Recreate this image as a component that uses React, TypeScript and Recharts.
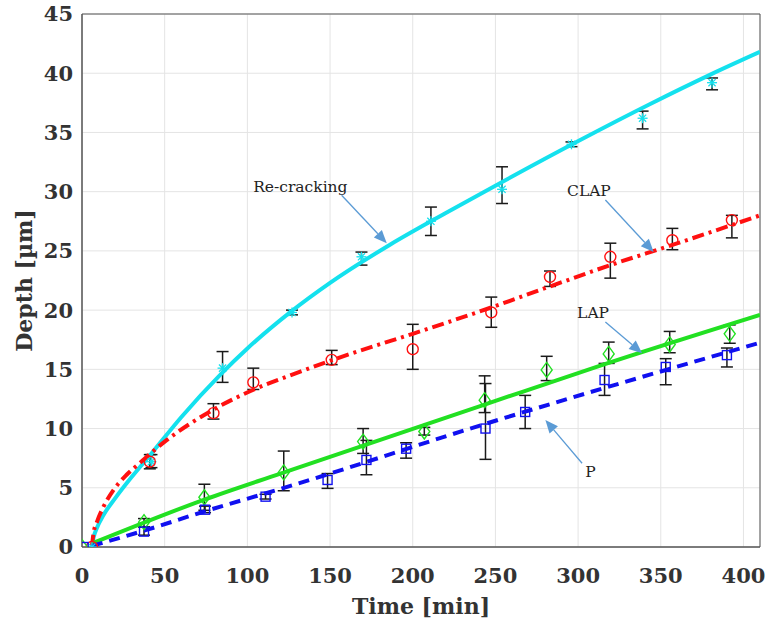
import React from "react";
import {
  ComposedChart,
  Line,
  Scatter,
  ErrorBar,
  XAxis,
  YAxis,
  CartesianGrid,
  ReferenceArea,
  ReferenceLine,
  ReferenceDot,
} from "recharts";

/* ── Axis ticks ── */
const xTicks = [0, 50, 100, 150, 200, 250, 300, 350, 400];
const yTicks = [0, 5, 10, 15, 20, 25, 30, 35, 40, 45];

/* ── Measured points (time, depth, error low, error high) ── */
const recrackT = [6, 42, 85, 127, 169, 211, 254, 296, 339, 381];
const recrackD = [0, 7.2, 15.1, 19.8, 24.5, 27.5, 30.2, 34.0, 36.2, 39.2];
const recrackLo = [null, 6.7, 13.9, 19.6, 23.8, 26.3, 29.0, 33.8, 35.3, 38.6];
const recrackHi = [null, 7.8, 16.5, 20.0, 24.9, 28.7, 32.1, 34.2, 36.8, 39.6];

const clapT = [6, 41, 79.5, 103.6, 151, 200, 247.5, 283, 319.5, 357, 393];
const clapD = [0, 7.2, 11.3, 13.9, 15.8, 16.7, 19.8, 22.8, 24.5, 25.9, 27.6];
const clapLo = [null, 6.6, 10.8, 13.3, 15.4, 15.0, 18.55, 22.0, 22.7, 25.1, 26.1];
const clapHi = [null, 7.8, 12.1, 15.1, 16.6, 18.8, 21.1, 23.3, 25.65, 26.9, 28.0];

const lapT = [0, 37.5, 74, 122, 170, 207, 243.5, 281, 318.5, 355.4, 391.7];
const lapD = [0, 2.1, 4.2, 6.3, 8.9, 9.75, 12.4, 14.95, 16.3, 17.1, 18.0];
const lapLo = [null, 1.7, 3.1, 4.75, 7.9, 9.45, 11.35, 14.05, 15.5, 16.4, 17.2];
const lapHi = [null, 2.4, 5.3, 8.1, 10.0, 10.1, 14.45, 16.1, 17.3, 18.2, 18.75];

const pT = [1, 37.5, 74.4, 111, 148.5, 172, 196, 244, 268, 316, 353, 390];
const pD = [0, 1.3, 3.15, 4.25, 5.66, 7.35, 8.3, 10.0, 11.4, 14.1, 15.2, 16.2];
const pLo = [null, 1.0, 2.9, 4.05, 4.95, 6.1, 7.5, 7.4, 10.0, 12.8, 13.7, 15.2];
const pHi = [null, 1.7, 3.45, 4.45, 6.2, 9.0, 8.8, 13.8, 12.8, 15.5, 15.9, 16.8];

/* ── Fitted curves ── */
const recrackFitT = [6, 7, 9, 13, 20, 30, 42, 60, 84, 100, 126, 150, 186, 220, 253, 301, 343, 380, 410];
const recrackFitD = [0, 0.8, 1.6, 2.7, 4.1, 5.9, 7.9, 10.96, 14.6, 16.76, 19.83, 22.3, 25.5, 28.2, 30.74, 34.34, 37.36, 39.88, 41.8];

const clapFitT = [6, 7, 9, 13, 19, 27, 35, 51, 79.5, 104, 130, 160, 200, 247, 283, 319.5, 357, 410];
const clapFitD = [0, 1.2, 2.1, 3.4, 4.8, 6.1, 7.1, 9.0, 11.6, 13.3, 14.7, 16.2, 18.0, 20.2, 22.0, 23.8, 25.5, 28.0];

const lapFitT = [6, 74, 120, 243, 313, 410];
const lapFitD = [0.3, 4.0, 6.2, 12.0, 15.3, 19.6];

const pFitT = [6, 38, 74, 120, 244, 410];
const pFitD = [0.1, 1.4, 3.0, 4.9, 10.4, 17.25];

const toPoints = (t: number[], d: number[], lo: (number | null)[], hi: (number | null)[]) =>
  t.map((x, i) => ({
    t: x,
    d: d[i],
    err: lo[i] == null || hi[i] == null ? undefined : [d[i] - (lo[i] as number), (hi[i] as number) - d[i]],
  }));

const toCurve = (t: number[], d: number[]) => t.map((x, i) => ({ t: x, d: d[i] }));

const recrackPts = toPoints(recrackT, recrackD, recrackLo, recrackHi);
const clapPts = toPoints(clapT, clapD, clapLo, clapHi);
const lapPts = toPoints(lapT, lapD, lapLo, lapHi);
const pPts = toPoints(pT, pD, pLo, pHi);

const CYAN = "#14E1EE";
const RED = "#FF1010";
const GREEN = "#22E022";
const BLUE = "#1010F0";
const ARROW = "#5B9BD5";
const SERIF = "'DejaVu Serif', serif";

/* ── Marker shapes ── */
const Asterisk = (props: any) => {
  const { cx, cy } = props;
  const r = 5;
  const k = 3.6;
  return (
    <g stroke={CYAN} strokeWidth={1.3}>
      <line x1={cx} y1={cy - r} x2={cx} y2={cy + r} />
      <line x1={cx - r} y1={cy} x2={cx + r} y2={cy} />
      <line x1={cx - k} y1={cy - k} x2={cx + k} y2={cy + k} />
      <line x1={cx - k} y1={cy + k} x2={cx + k} y2={cy - k} />
    </g>
  );
};

const Ring = (props: any) => (
  <circle cx={props.cx} cy={props.cy} r={5.5} fill="none" stroke={RED} strokeWidth={1.4} />
);

const Diamond = (props: any) => {
  const { cx, cy } = props;
  return (
    <polygon
      points={`${cx},${cy - 7.5} ${cx + 5.5},${cy} ${cx},${cy + 7.5} ${cx - 5.5},${cy}`}
      fill="none"
      stroke={GREEN}
      strokeWidth={1.4}
    />
  );
};

const Square = (props: any) => (
  <rect x={props.cx - 4.5} y={props.cy - 4.5} width={9} height={9} fill="none" stroke={BLUE} strokeWidth={1.4} />
);

/* ── Annotation arrow ── */
const Arrow = (props: any) => {
  const { x1, y1, x2, y2 } = props;
  if ([x1, y1, x2, y2].some((v) => typeof v !== "number" || isNaN(v))) return null;
  const ang = Math.atan2(y2 - y1, x2 - x1);
  const len = 13;
  const hw = 5.5;
  const bx = x2 - len * Math.cos(ang);
  const by = y2 - len * Math.sin(ang);
  const px = -Math.sin(ang) * hw;
  const py = Math.cos(ang) * hw;
  return (
    <g>
      <line x1={x1} y1={y1} x2={bx} y2={by} stroke={ARROW} strokeWidth={1.3} />
      <polygon points={`${x2},${y2} ${bx + px},${by + py} ${bx - px},${by - py}`} fill={ARROW} />
    </g>
  );
};

const noteLabel = (text: string) => (props: any) => {
  const vb = props.viewBox || {};
  return (
    <text
      x={vb.x}
      y={vb.y}
      dominantBaseline="central"
      fontFamily={SERIF}
      fontSize={15.5}
      fill="#222"
    >
      {text}
    </text>
  );
};

const tickStyle = { fill: "#333", fontSize: 21, fontWeight: 700, fontFamily: SERIF };

export default function App() {
  return (
    <div style={{ position: "absolute", left: 0, top: 0, background: "#fff" }}>
      <ComposedChart width={767} height={624} margin={{ top: 14, right: 7, bottom: 0, left: 0 }}>
        <CartesianGrid stroke="#E4E4E4" strokeWidth={1} />

        {/* inner tick marks */}
        <XAxis
          xAxisId="inBottom"
          type="number"
          orientation="bottom"
          domain={[0, 410]}
          ticks={xTicks}
          allowDataOverflow
          mirror
          height={0}
          tick={false}
          tickSize={6}
          tickLine={{ stroke: "#555" }}
          axisLine={false}
        />
        <XAxis
          dataKey="t"
          type="number"
          domain={[0, 410]}
          ticks={xTicks}
          allowDataOverflow
          height={77}
          tick={tickStyle}
          tickLine={false}
          tickMargin={15}
          axisLine={{ stroke: "#555" }}
          label={{
            value: "Time [min]",
            position: "insideBottom",
            offset: 10,
            style: { fontFamily: SERIF, fontSize: 22, fontWeight: 700, fill: "#333" },
          }}
        />
        <XAxis
          xAxisId="top"
          type="number"
          orientation="top"
          domain={[0, 410]}
          ticks={xTicks}
          allowDataOverflow
          mirror
          height={0}
          tick={false}
          tickSize={6}
          tickLine={{ stroke: "#555" }}
          axisLine={{ stroke: "#555" }}
        />
        <YAxis
          yAxisId="inLeft"
          type="number"
          domain={[0, 45]}
          ticks={yTicks}
          allowDataOverflow
          mirror
          width={0}
          tick={false}
          tickSize={6}
          tickLine={{ stroke: "#555" }}
          axisLine={false}
        />
        <YAxis
          type="number"
          dataKey="d"
          domain={[0, 45]}
          ticks={yTicks}
          allowDataOverflow
          width={82}
          tick={tickStyle}
          tickLine={false}
          tickMargin={3}
          axisLine={{ stroke: "#555" }}
          label={{
            content: (p: any) => {
              const vb = p.viewBox || {};
              const cx = 24;
              const cy = (vb.y ?? 14) + (vb.height ?? 533) / 2;
              return (
                <text
                  x={cx}
                  y={cy}
                  transform={`rotate(-90 ${cx} ${cy})`}
                  textAnchor="middle"
                  dominantBaseline="central"
                  fontFamily={SERIF}
                  fontSize={22}
                  fontWeight={700}
                  fill="#333"
                >
                  Depth [µm]
                </text>
              );
            },
          }}
        />
        <YAxis
          yAxisId="right"
          type="number"
          orientation="right"
          domain={[0, 45]}
          ticks={yTicks}
          allowDataOverflow
          mirror
          width={0}
          tick={false}
          tickSize={6}
          tickLine={{ stroke: "#555" }}
          axisLine={{ stroke: "#555" }}
        />

        {/* measured points with error bars */}
        <Scatter data={recrackPts} dataKey="d" shape={<Asterisk />} isAnimationActive={false}>
          <ErrorBar dataKey="err" direction="y" width={6} stroke="#1a1a1a" strokeWidth={1.5} />
        </Scatter>
        <Scatter data={clapPts} dataKey="d" shape={<Ring />} isAnimationActive={false}>
          <ErrorBar dataKey="err" direction="y" width={6} stroke="#1a1a1a" strokeWidth={1.5} />
        </Scatter>
        <Scatter data={lapPts} dataKey="d" shape={<Diamond />} isAnimationActive={false}>
          <ErrorBar dataKey="err" direction="y" width={6} stroke="#1a1a1a" strokeWidth={1.5} />
        </Scatter>
        <Scatter data={pPts} dataKey="d" shape={<Square />} isAnimationActive={false}>
          <ErrorBar dataKey="err" direction="y" width={6} stroke="#1a1a1a" strokeWidth={1.5} />
        </Scatter>

        {/* fitted curves */}
        <Line
          data={toCurve(recrackFitT, recrackFitD)}
          dataKey="d"
          type="monotone"
          stroke={CYAN}
          strokeWidth={4}
          dot={false}
          activeDot={false}
          isAnimationActive={false}
        />
        <Line
          data={toCurve(clapFitT, clapFitD)}
          dataKey="d"
          type="monotone"
          stroke={RED}
          strokeWidth={4}
          strokeDasharray="12 5 3 5"
          dot={false}
          activeDot={false}
          isAnimationActive={false}
        />
        <Line
          data={toCurve(lapFitT, lapFitD)}
          dataKey="d"
          type="monotone"
          stroke={GREEN}
          strokeWidth={4}
          dot={false}
          activeDot={false}
          isAnimationActive={false}
        />
        <Line
          data={toCurve(pFitT, pFitD)}
          dataKey="d"
          type="monotone"
          stroke={BLUE}
          strokeWidth={4}
          strokeDasharray="11 7"
          dot={false}
          activeDot={false}
          isAnimationActive={false}
        />

        {/* box */}
        <ReferenceArea x1={0} x2={410} y1={0} y2={45} fill="none" stroke="#555" strokeWidth={1} />

        {/* annotations */}
        <ReferenceLine segment={[{ x: 157, y: 29.7 }, { x: 184.3, y: 25.65 }]} shape={<Arrow />} />
        <ReferenceLine segment={[{ x: 316.5, y: 29.3 }, { x: 345.7, y: 24.9 }]} shape={<Arrow />} />
        <ReferenceLine segment={[{ x: 316.5, y: 19.0 }, { x: 338.7, y: 16.36 }]} shape={<Arrow />} />
        <ReferenceLine segment={[{ x: 302.4, y: 7.07 }, { x: 280.2, y: 10.73 }]} shape={<Arrow />} />

        <ReferenceDot x={103.5} y={30.4} r={0} stroke="none" label={{ content: noteLabel("Re-cracking") }} />
        <ReferenceDot x={293.3} y={30.07} r={0} stroke="none" label={{ content: noteLabel("CLAP") }} />
        <ReferenceDot x={299.4} y={19.74} r={0} stroke="none" label={{ content: noteLabel("LAP") }} />
        <ReferenceDot x={304.4} y={6.36} r={0} stroke="none" label={{ content: noteLabel("P") }} />
      </ComposedChart>
    </div>
  );
}
